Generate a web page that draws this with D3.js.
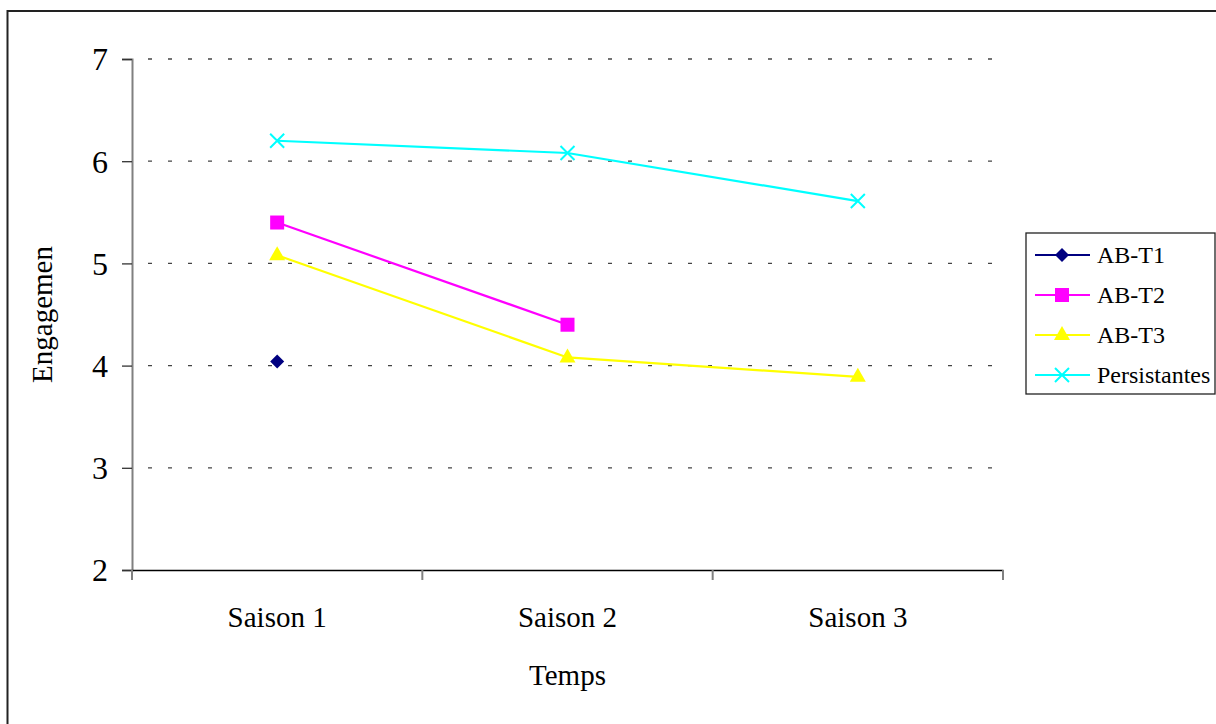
<!DOCTYPE html>
<html>
<head>
<meta charset="utf-8">
<script src="https://cdn.jsdelivr.net/npm/d3@7"></script>
<style>
  body { margin: 0; background: #fff; }
  svg { display: block; }
  text { font-family: "Liberation Serif", "Times New Roman", serif; fill: #000; }
</style>
</head>
<body>
<div id="chart"></div>
<script>
// chart data
const seasons = ["Saison 1", "Saison 2", "Saison 3"];
const seriesNames = ["AB-T1", "AB-T2", "AB-T3", "Persistantes"];
const abT1 = [4.04, null, null];
const abT2 = [5.40, 4.40, null];
const abT3 = [5.08, 4.08, 3.89];
const persistantes = [6.20, 6.08, 5.61];
const yTicks = [2, 3, 4, 5, 6, 7];

const seriesValues = [abT1, abT2, abT3, persistantes];
const colors = ["#000080", "#ff00ff", "#ffff00", "#00ffff"];
const symbols = ["diamond", "square", "triangle", "cross"];

const W = 1216, H = 724;
const margin = { top: 59, right: 213, bottom: 154, left: 132 };
const width = W - margin.left - margin.right;
const height = H - margin.top - margin.bottom;

const svg = d3.select("#chart").append("svg")
  .attr("width", W)
  .attr("height", H);

// outer frame (only left and top edges visible, rest runs off the page)
svg.append("rect")
  .attr("x", 7.5).attr("y", 11)
  .attr("width", W + 20).attr("height", H + 20)
  .attr("fill", "none")
  .attr("stroke", "#222")
  .attr("stroke-width", 2);

const g = svg.append("g")
  .attr("transform", "translate(" + [margin.left, margin.top] + ")");

const x = d3.scaleBand().domain(seasons).range([0, width]);
const y = d3.scaleLinear().domain([2, 7]).range([height, 0]);

// dotted gridlines
g.append("g")
  .selectAll("line")
  .data(yTicks.filter(d => d > 2))
  .join("line")
    .attr("x1", 0).attr("x2", width - 6)
    .attr("y1", d => y(d)).attr("y2", d => y(d))
    .attr("stroke", "#444")
    .attr("stroke-width", 1.3)
    .attr("stroke-dasharray", "4 16")
    .attr("stroke-dashoffset", 4);

// y axis
const yAxis = g.append("g")
  .call(d3.axisLeft(y).tickValues(yTicks).tickSize(10).tickPadding(14).tickFormat(d3.format("d")));
yAxis.select(".domain").attr("stroke", "#808080").attr("stroke-width", 2);
yAxis.selectAll(".tick line").attr("stroke", "#333").attr("stroke-width", 1.3);
yAxis.selectAll(".tick text")
  .style("font-family", "'Liberation Serif', serif")
  .style("font-size", "32px")
  .attr("dy", "0.34em");

// x axis
const xAxis = g.append("g")
  .attr("transform", "translate(0," + height + ")")
  .call(d3.axisBottom(x).tickSize(0).tickPadding(36));
xAxis.select(".domain").attr("stroke", "#000").attr("stroke-width", 1.5);
xAxis.selectAll(".tick text")
  .style("font-family", "'Liberation Serif', serif")
  .style("font-size", "29px");

// category separators on the x axis
g.append("g")
  .selectAll("line")
  .data(seasons.map(s => x(s)).concat([width]))
  .join("line")
    .attr("x1", d => d).attr("x2", d => d)
    .attr("y1", height).attr("y2", height + 10)
    .attr("stroke", "#808080")
    .attr("stroke-width", 2);

// axis titles
g.append("text")
  .attr("x", width / 2)
  .attr("y", height + 115)
  .attr("text-anchor", "middle")
  .style("font-size", "29px")
  .text("Temps");

g.append("text")
  .attr("transform", "translate(" + (-80) + "," + (height / 2) + ") rotate(-90)")
  .attr("text-anchor", "middle")
  .style("font-size", "29px")
  .text("Engagemen");

// marker shapes
function drawMarker(sel, type, color) {
  if (type === "diamond") {
    sel.append("path").attr("d", "M0,-7L7,0L0,7L-7,0Z").attr("fill", color);
  } else if (type === "square") {
    sel.append("rect").attr("x", -7).attr("y", -7).attr("width", 14).attr("height", 14).attr("fill", color);
  } else if (type === "triangle") {
    sel.append("path").attr("d", "M0,-9L8,5L-8,5Z").attr("fill", color);
  } else {
    sel.append("path").attr("d", "M-7,-7L7,7M-7,7L7,-7")
      .attr("stroke", color).attr("stroke-width", 2).attr("fill", "none");
  }
}

const cx = d => x(d) + x.bandwidth() / 2;

const line = d3.line()
  .defined(d => d.v !== null)
  .x(d => cx(d.s))
  .y(d => y(d.v));

seriesValues.forEach((vals, i) => {
  const pts = vals.map((v, j) => ({ s: seasons[j], v: v }));
  g.append("path")
    .datum(pts)
    .attr("fill", "none")
    .attr("stroke", colors[i])
    .attr("stroke-width", 2.2)
    .attr("d", line);

  pts.filter(d => d.v !== null).forEach(d => {
    const m = g.append("g").attr("transform", "translate(" + cx(d.s) + "," + y(d.v) + ")");
    drawMarker(m, symbols[i], colors[i]);
  });
});

// legend
const legend = svg.append("g").attr("transform", "translate(1026,233)");
legend.append("rect")
  .attr("x", 0).attr("y", 0)
  .attr("width", 189).attr("height", 161)
  .attr("fill", "#fff")
  .attr("stroke", "#222")
  .attr("stroke-width", 1.3);

seriesNames.forEach((name, i) => {
  const row = legend.append("g").attr("transform", "translate(0," + (22 + i * 40) + ")");
  row.append("line")
    .attr("x1", 9).attr("x2", 64)
    .attr("stroke", colors[i]).attr("stroke-width", 2);
  const m = row.append("g").attr("transform", "translate(36,0)");
  drawMarker(m, symbols[i], colors[i]);
  row.append("text")
    .attr("x", 71)
    .attr("dy", "0.35em")
    .style("font-size", "24px")
    .text(name);
});
</script>
</body>
</html>
